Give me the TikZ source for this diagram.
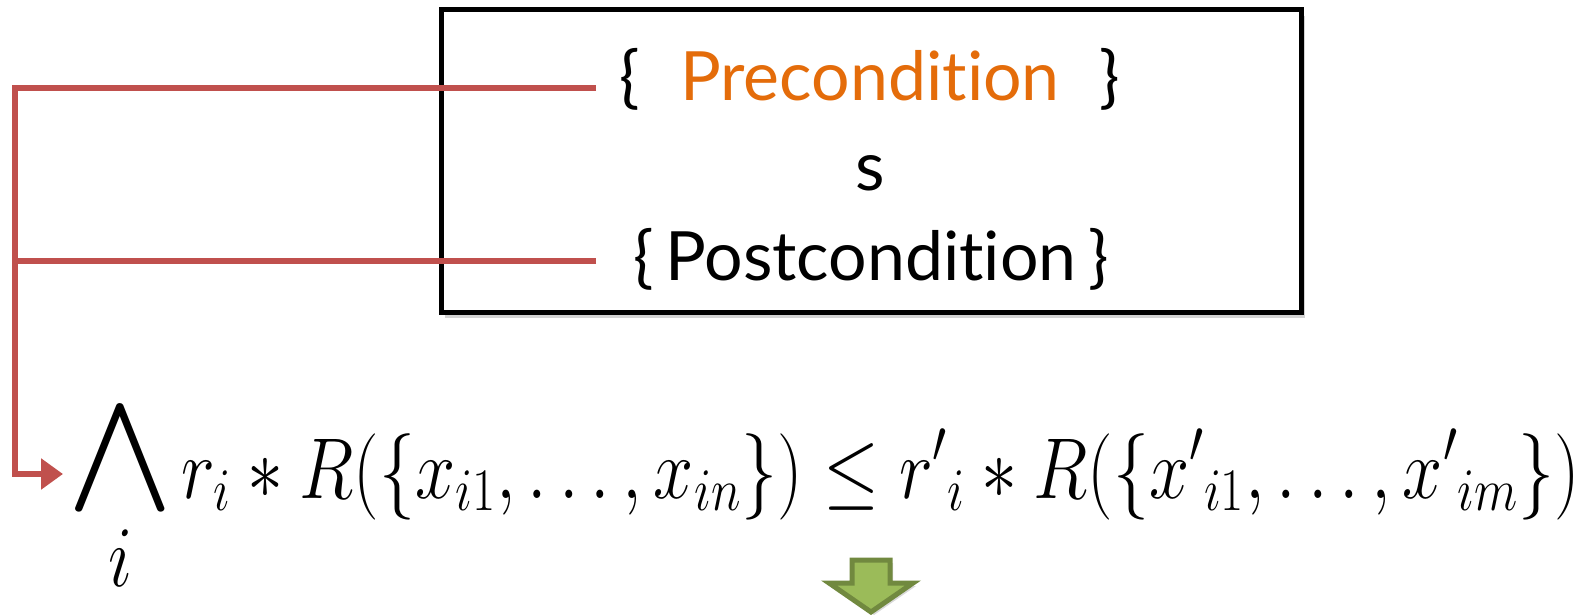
\RequirePackage{fix-cm}
\documentclass[tikz,border=0pt]{standalone}
\usepackage{amsmath}
\usepackage{fontspec}
\setmainfont{Lato}[Ligatures=NoCommon]
\usetikzlibrary{arrows.meta, positioning, shadows, calc}

\definecolor{linkred}{HTML}{C0504D}
\definecolor{preorange}{HTML}{E46C0A}
\definecolor{nextgreen}{HTML}{9BBB59}
\definecolor{nextedge}{HTML}{71893F}

\newcommand{\bigand}{\mathop{\raisebox{5pt}{\scalebox{1.8}[1.3]{$\displaystyle\bigwedge$}}}\limits}

\begin{document}
\begin{tikzpicture}[
    x=0.5pt, y=-0.5pt,
    % --- Styles ---
    triple/.style={draw, line width=2.5pt, fill=white, minimum width=430pt, minimum height=151pt,
        drop shadow={shadow xshift=2pt, shadow yshift=-3pt, opacity=0.35}},
    cond/.style={font=\fontsize{34}{40}\selectfont, inner sep=0pt, anchor=base},
    link/.style={draw=linkred, line width=3pt},
    link arrow/.style={link, -{Triangle[length=11pt, width=15pt]}},
    next/.style={draw=nextedge, fill=nextgreen, line width=2.5pt, line join=miter,
        drop shadow={shadow xshift=1.5pt, shadow yshift=-1.5pt, opacity=0.3}}
]
    \useasboundingbox (0,0) rectangle (1583,615);

    % --- Hoare triple ---
    \node[triple] (box) at (871,161) {};
    \node[cond] (pre) at (870,101) {\{\hspace{20pt}{\color{preorange}Precondition}\hspace{20pt}\}};
    \node[cond] (stmt) at (870,190) {s};
    \node[cond] (post) at (871,280) {\{\,Postcondition\,\}};

    % --- Verification condition ---
    \node[inner sep=0pt, anchor=base west, font=\fontsize{36}{42}\selectfont] (formula) at (70,498)
        {\scalebox{1}[1.2]{$\displaystyle\bigand_{\textstyle i} r_i * R(\{x_{i1},\dots,x_{in}\}) \le {r'}_i * R(\{{x'}_{i1},\dots,{x'}_{im}\})$}};
    \coordinate (into) at (63,474);
    \coordinate (spine) at (15,0);
    \coordinate (tap) at (596,0);
    \coordinate (pre-out) at ([yshift=6.5pt]pre.base -| tap);
    \coordinate (post-out) at ([yshift=9.75pt]post.base -| tap);

    % --- Next step ---
    \coordinate (step) at (871,560);
    \draw[next] (step) ++(-19,0) -- ++(38,0) -- ++(0,23) -- ++(23,0) -- ++(-42,29)
        -- ++(-42,-29) -- ++(23,0) -- cycle;

    % --- Links ---
    \draw[link arrow] (pre-out) -- (pre-out -| spine) |- (into);
    \draw[link] (post-out) -- (post-out -| spine);

\end{tikzpicture}
\end{document}
